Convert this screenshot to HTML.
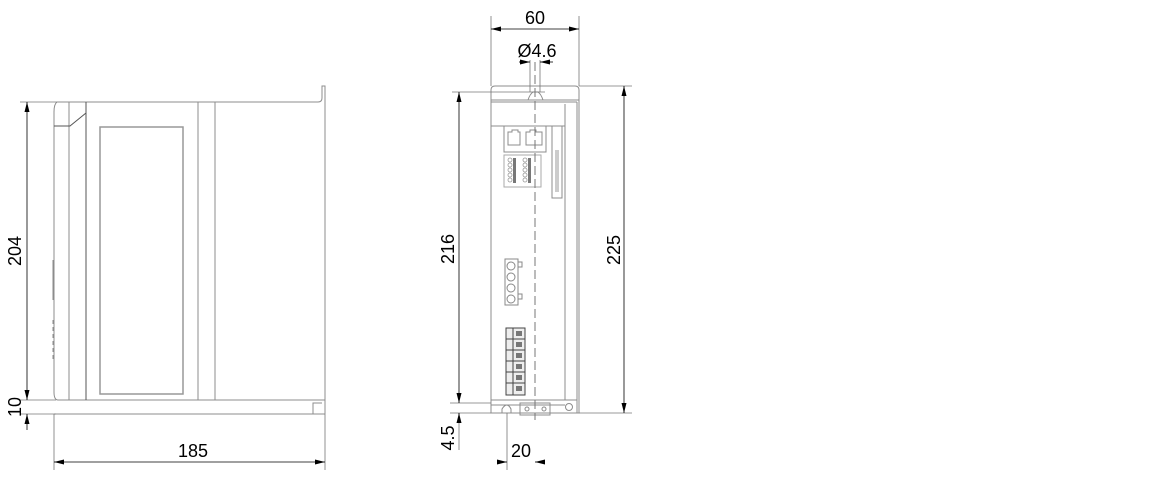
<!DOCTYPE html>
<html><head><meta charset="utf-8"><style>
html,body{margin:0;padding:0;background:#fff;width:1160px;height:481px;overflow:hidden}
svg{display:block}
text{font-family:"Liberation Sans",sans-serif;font-size:18px;fill:#000}
</style></head><body>
<svg width="1160" height="481" viewBox="0 0 1160 481" xmlns="http://www.w3.org/2000/svg">
<defs>
<marker id="a" viewBox="0 0 10 6" refX="10" refY="3" markerWidth="10" markerHeight="6" orient="auto-start-reverse" markerUnits="userSpaceOnUse"><path d="M0,0.5 L10,3 L0,5.5z" fill="#000"/></marker>
</defs>
<g fill="none" stroke="#8c8c8c" stroke-width="1">
<!-- left view -->
<path d="M57,102 H318 Q322,102 322,98 V86 H325 V414"/>
<path d="M57,102 Q54,104 54,112 V392 Q54,400 58,400 H325"/>
<path d="M54,414 H325"/>
<path d="M313,414 V403 H322"/>
<line x1="69" y1="102" x2="69" y2="400"/>
<line x1="86" y1="102" x2="86" y2="400" stroke="#555"/>
<line x1="198" y1="102" x2="198" y2="400"/>
<line x1="215" y1="102" x2="215" y2="400"/>
<path d="M54,126 H70 L86,113" stroke="#555"/>
<rect x="100" y="127" width="83" height="267" stroke="#999" stroke-width="1.5"/>
<line x1="53" y1="260" x2="53" y2="300"/>
<line x1="53" y1="320" x2="53" y2="360" stroke-dasharray="4,3"/>
<!-- right view -->
<path d="M491,413 V90 Q491,86 495,86 H575 Q579,86 579,90 V413 Z"/>
<line x1="491" y1="100" x2="579" y2="100"/>
<line x1="491" y1="102" x2="577" y2="102"/>
<line x1="577" y1="102" x2="577" y2="413"/>
<line x1="565" y1="104" x2="565" y2="400"/>
<line x1="491" y1="126" x2="565" y2="126"/>
<line x1="491" y1="400" x2="577" y2="400"/>
<line x1="491" y1="405" x2="565" y2="405"/>
<path d="M528,100 Q530,94 533,92 H538 Q541,94 543,100"/>
<rect x="504" y="126" width="42" height="26"/>
<path d="M508,132 H512 V130 H518 V132 H520 V145 H508 Z"/>
<path d="M526,132 H530 V130 H536 V132 H542 V145 H526 Z"/>
<rect x="552" y="126" width="10" height="72"/>
<rect x="504" y="155" width="37" height="32" stroke="#aaa"/>
<g stroke="#888"><rect x="505" y="259" width="13" height="46"/><circle cx="511" cy="266" r="4"/><circle cx="511" cy="277" r="4"/><circle cx="511" cy="288" r="4"/><circle cx="511" cy="299" r="4"/><rect x="518" y="262" width="4" height="5"/><rect x="518" y="294" width="4" height="5"/></g>
<g stroke="#444"><rect x="506" y="328" width="19" height="67" fill="#eee"/><line x1="513" y1="328" x2="513" y2="395"/>
<line x1="506" y1="339" x2="525" y2="339"/><line x1="506" y1="350" x2="525" y2="350"/><line x1="506" y1="361" x2="525" y2="361"/><line x1="506" y1="372" x2="525" y2="372"/><line x1="506" y1="383" x2="525" y2="383"/></g>
<rect x="520" y="403" width="30" height="12"/>
<circle cx="527" cy="409" r="2"/><circle cx="544" cy="409" r="2"/><circle cx="569" cy="407" r="3.5"/>
<path d="M502,413 V409 Q507,401 511,409 V413"/>
</g>
<g fill="none" stroke="#999" stroke-width="0.8">
<circle cx="510" cy="160" r="2"/><circle cx="510" cy="165" r="2"/><circle cx="510" cy="170" r="2"/><circle cx="510" cy="175" r="2"/><circle cx="510" cy="180" r="2"/>
<circle cx="525" cy="160" r="2"/><circle cx="525" cy="165" r="2"/><circle cx="525" cy="170" r="2"/><circle cx="525" cy="175" r="2"/><circle cx="525" cy="180" r="2"/>
</g>
<g fill="#777" stroke="none">
<rect x="513" y="158" width="3" height="25"/><rect x="528" y="158" width="3" height="25"/>
<rect x="555" y="150" width="4" height="42" fill="#ccc"/>
<rect x="516" y="331" width="6" height="5"/><rect x="516" y="342" width="6" height="5"/><rect x="516" y="353" width="6" height="5"/><rect x="516" y="364" width="6" height="5"/><rect x="516" y="375" width="6" height="5"/><rect x="516" y="386" width="6" height="5"/>
</g>
<line x1="535" y1="62" x2="535" y2="420" stroke="#777" stroke-dasharray="9,4"/>
<g stroke="#777" stroke-width="0.8" fill="none">
<line x1="20" y1="102" x2="57" y2="102"/>
<line x1="20" y1="400" x2="56" y2="400"/>
<line x1="20" y1="414" x2="56" y2="414"/>
<line x1="54" y1="414" x2="54" y2="470"/>
<line x1="325" y1="414" x2="325" y2="470"/>
<line x1="491" y1="16" x2="491" y2="86"/>
<line x1="579" y1="16" x2="579" y2="86"/>
<line x1="579" y1="86" x2="632" y2="86"/>
<line x1="579" y1="413" x2="632" y2="413"/>
<line x1="452" y1="92" x2="545" y2="92"/>
<line x1="450" y1="403" x2="491" y2="403"/>
<line x1="450" y1="413" x2="491" y2="413"/>
<line x1="507" y1="413" x2="507" y2="470"/>
<line x1="459" y1="413" x2="459" y2="450"/>
<line x1="530" y1="60" x2="530" y2="92"/><line x1="540" y1="60" x2="540" y2="92"/>
</g>
<g stroke="#000" stroke-width="0.8" fill="none">
<line x1="27" y1="102" x2="27" y2="400" marker-start="url(#a)" marker-end="url(#a)"/>
<line x1="27" y1="424" x2="27" y2="414" marker-end="url(#a)"/>
<line x1="27" y1="424" x2="27" y2="430"/>
<line x1="54" y1="462" x2="325" y2="462" marker-start="url(#a)" marker-end="url(#a)"/>
<line x1="491" y1="29" x2="579" y2="29" marker-start="url(#a)" marker-end="url(#a)"/>
<line x1="519" y1="62" x2="530" y2="62" marker-end="url(#a)"/>
<line x1="553" y1="62" x2="540" y2="62" marker-end="url(#a)"/>
<line x1="459" y1="92" x2="459" y2="403" marker-start="url(#a)" marker-end="url(#a)"/>
<line x1="459" y1="423" x2="459" y2="413" marker-end="url(#a)"/>
<line x1="624" y1="86" x2="624" y2="413" marker-start="url(#a)" marker-end="url(#a)"/>
<line x1="497" y1="462" x2="507" y2="462" marker-end="url(#a)"/>
<line x1="545" y1="462" x2="535" y2="462" marker-end="url(#a)"/>
</g>
<text transform="translate(21,251) rotate(-90)" text-anchor="middle">204</text>
<text transform="translate(21,407) rotate(-90)" text-anchor="middle">10</text>
<text x="193" y="457" text-anchor="middle">185</text>
<text transform="translate(454,249) rotate(-90)" text-anchor="middle">216</text>
<text transform="translate(620,250) rotate(-90)" text-anchor="middle">225</text>
<text transform="translate(454,438) rotate(-90)" text-anchor="middle">4.5</text>
<text x="521" y="457" text-anchor="middle">20</text>
<text x="535" y="24" text-anchor="middle">60</text>
<text x="537" y="57" text-anchor="middle">Ø4.6</text>
</svg>
</body></html>
